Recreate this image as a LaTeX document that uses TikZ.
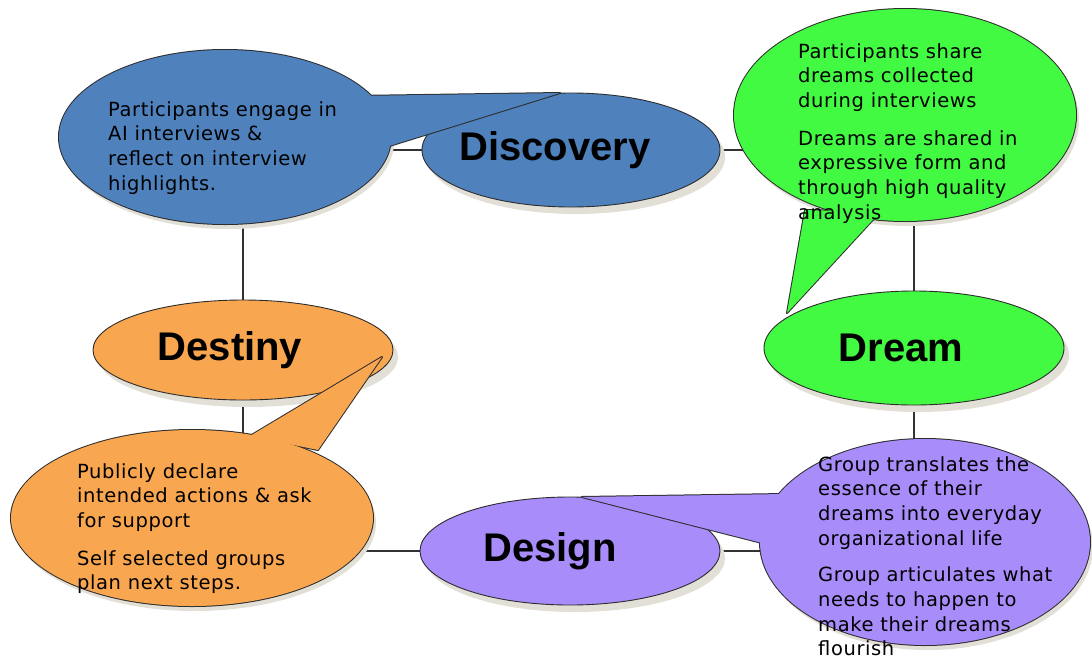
\documentclass[tikz,border=0pt]{standalone}
\usepackage{fontspec}
\setmainfont{DejaVu Sans}
\newfontfamily\callfont[LetterSpace=3]{DejaVu Sans}
\newfontfamily\labelfont{Liberation Sans}
\usetikzlibrary{backgrounds,shadows,shapes.geometric}
\definecolor{cblue}{RGB}{79,129,189}
\definecolor{cgreen}{RGB}{66,250,66}
\definecolor{corange}{RGB}{249,166,80}
\definecolor{cpurple}{RGB}{167,140,250}
\definecolor{cedge}{RGB}{45,45,45}
\definecolor{cline}{RGB}{50,50,50}
\definecolor{cshadow}{RGB}{226,224,214}
\begin{document}
\begin{tikzpicture}[x=1pt,y=-1pt,
  phase/.style={ellipse, draw=cedge, line width=0.9pt, inner sep=0pt,
    drop shadow={shadow xshift=5pt, shadow yshift=-7pt, fill=cshadow, opacity=1}},
  phaselabel/.style={inner sep=0pt, font=\labelfont\bfseries\fontsize{40}{48}\selectfont},
  conn/.style={draw=cline, line width=2.6pt},
  outline/.style={draw=cedge, line width=2pt, line join=round},
  cshad/.style={fill=cshadow, shift={(3,5)}},
  ctext/.style={anchor=north west, inner sep=0pt, align=left,
    font=\callfont\fontsize{19.5}{24.7}\selectfont, text=black}]
\useasboundingbox (0,0) rectangle (1092,662);
% phase ellipses
\node[phase, fill=cblue, minimum width=298pt, minimum height=114pt] (disc) at (571,150) {};
\node[phase, fill=cgreen, minimum width=300pt, minimum height=114pt] (dream) at (914,348) {};
\node[phase, fill=cpurple, minimum width=300pt, minimum height=108pt] (design) at (570,551) {};
\node[phase, fill=corange, minimum width=300pt, minimum height=100pt] (destiny) at (243,350) {};
\node[phaselabel] (ldisc) at ([xshift=-16pt]disc.center) {Discovery};
\node[phaselabel] (ldream) at ([xshift=-13pt]dream.center) {Dream};
\node[phaselabel] (ldesign) at ([xshift=-20pt]design.center) {Design};
\node[phaselabel] (ldestiny) at ([xshift=-13pt]destiny.center) {Destiny};
% connectors behind
\begin{scope}[on background layer]
\fill[white] (0,0) rectangle (1092,662);
\draw[conn] (disc) -| (dream);
\draw[conn] (dream) |- (design);
\draw[conn] (design) -| (destiny);
\draw[conn] (destiny) |- (disc);
\end{scope}
% blue callout
\fill[cshad] (225,137) ellipse [x radius=166, y radius=87];
\path[outline, fill=cblue] (225,137) ellipse [x radius=166, y radius=87];
\path[outline, fill=cblue] (355,96) -- (560,93) -- (386,147) -- cycle;
\fill[cblue] (225,137) ellipse [x radius=166, y radius=87];
\fill[cblue] (355,96) -- (560,93) -- (386,147) -- cycle;
% green callout
\fill[cshad] (905,115) ellipse [x radius=171, y radius=106];
\path[outline, fill=cgreen] (905,115) ellipse [x radius=171, y radius=106];
\path[outline, fill=cgreen] (805,210) -- (880,212) -- (787,313) -- cycle;
\fill[cgreen] (905,115) ellipse [x radius=171, y radius=106];
\fill[cgreen] (805,210) -- (880,212) -- (787,313) -- cycle;
% orange callout
\fill[cshad] (192,518) ellipse [x radius=181, y radius=88];
\path[outline, fill=corange] (192,518) ellipse [x radius=181, y radius=88];
\path[outline, fill=corange] (250,436) -- (382,357) -- (318,450) -- cycle;
\fill[corange] (192,518) ellipse [x radius=181, y radius=88];
\fill[corange] (250,436) -- (382,357) -- (318,450) -- cycle;
% purple callout
\fill[cshad] (925,542) ellipse [x radius=165, y radius=103];
\path[outline, fill=cpurple] (925,542) ellipse [x radius=165, y radius=103];
\path[outline, fill=cpurple] (582,497) -- (785,494) -- (770,545) -- cycle;
\fill[cpurple] (925,542) ellipse [x radius=165, y radius=103];
\fill[cpurple] (582,497) -- (785,494) -- (770,545) -- cycle;
% texts
\node[ctext] (tdisc) at (108,101) {Participants engage in\\AI interviews \&\\reflect on interview\\highlights.};
\node[ctext] (tdream) at (798,43) {Participants share\\dreams collected\\during interviews\\[13pt]Dreams are shared in\\expressive form and\\through high quality\\analysis};
\node[ctext] (tdest) at (77,463) {Publicly declare\\intended actions \& ask\\for support\\[13pt]Self selected groups\\plan next steps.};
\node[ctext] (tdes) at (818,456) {Group translates the\\essence of their\\dreams into everyday\\organizational life\\[12pt]Group articulates what\\needs to happen to\\make their dreams\\flourish};
\end{tikzpicture}
\end{document}
